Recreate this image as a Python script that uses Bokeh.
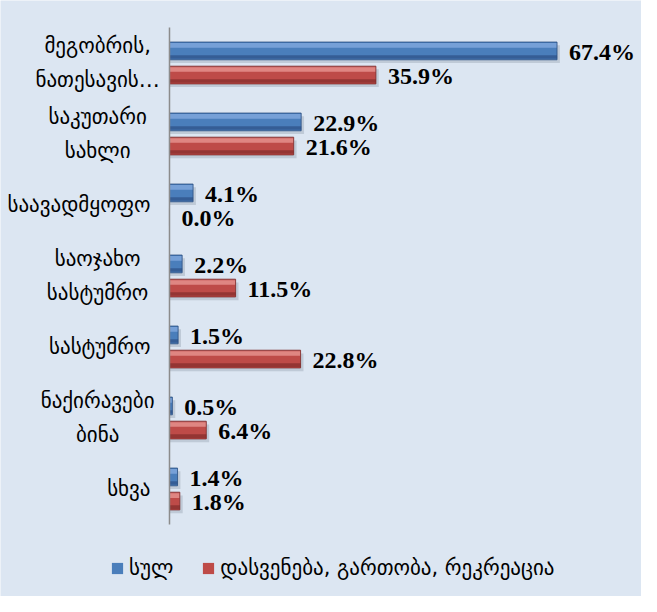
import numpy as np
from bokeh.plotting import figure
from bokeh.models import Range1d, Legend, LegendItem
from bokeh.core.properties import value
from bokeh.embed import file_html
from bokeh.resources import INLINE

# ---- data ----
categories = ["მეგობრის,\nნათესავის…", "საკუთარი\nსახლი", "საავადმყოფო",
              "საოჯახო\nსასტუმრო", "სასტუმრო", "ნაქირავები\nბინა", "სხვა"]
total = [67.4, 22.9, 4.1, 2.2, 1.5, 0.5, 1.4]
leisure = [35.9, 21.6, 0.0, 11.5, 22.8, 6.4, 1.8]
series_names = ["სულ", "დასვენება, გართობა, რეკრეაცია"]

# ---- styles ----
BG = "#dce6f2"
BLUE = dict(main="#4a7ebb", top="#7ea6dc", bottom="#335a91", line="#2c4f80")
RED = dict(main="#be4b48", top="#e5908d", bottom="#8f3331", line="#7a2a28")
LABEL_FONT = "DejaVu Sans"
VALUE_FONT = "Liberation Serif"

n = len(categories)
ypos = np.arange(n, dtype=float)
W, H = 641, 596
p = figure(width=W, height=H, output_backend="svg", toolbar_location=None,
           x_range=Range1d(-29.39, 82.09), y_range=Range1d(7.514, -0.880),
           x_axis_location=None, y_axis_location=None, min_border=0,
           background_fill_color=BG, border_fill_color=BG, outline_line_color=None)
p.grid.visible = False

bh = 0.25
mains = []
for vals, off, col in [(total, -0.17, BLUE), (leisure, 0.17, RED)]:
    v = np.array(vals)
    y = ypos + off
    # soft shadow
    p.hbar(y=y + 0.045, left=0, right=np.where(v > 0, v + 0.5, 0), height=bh,
           fill_color="#5a6878", fill_alpha=0.22, line_color=None)
    r = p.hbar(y=y, left=0, right=v, height=bh, fill_color=col["main"], line_color=None)
    mains.append(r)
    p.hbar(y=y - bh * 0.31, left=0, right=v, height=bh * 0.26,
           fill_color=col["top"], fill_alpha=0.85, line_color=None)
    p.hbar(y=y + bh * 0.34, left=0, right=v, height=bh * 0.2,
           fill_color=col["bottom"], fill_alpha=0.9, line_color=None)
    p.hbar(y=y, left=0, right=v, height=bh, fill_color=None,
           line_color=col["line"], line_width=0.8)
    p.text(x=v, y=y, text=[f"{a:.1f}%" for a in vals], x_offset=12, y_offset=1,
           text_align="left", text_baseline="middle", text_color="#000000",
           text_font=value(VALUE_FONT), text_font_style="bold", text_font_size="24px")

# category axis line
p.segment(x0=[0], y0=[-0.5], x1=[0], y1=[n - 0.5], line_color="#8c8c8c", line_width=1.5)

# category labels
multi = [i for i, c in enumerate(categories) if "\n" in c]
single = [i for i, c in enumerate(categories) if "\n" not in c]
p.text(x=[-12.5] * len(multi), y=ypos[multi], text=[categories[i] for i in multi],
       text_align="center", text_baseline="middle", text_color="#000000",
       text_font=value(LABEL_FONT), text_font_size="21px", text_line_height=1.38)
p.text(x=[-3.3] * len(single), y=ypos[single], text=[categories[i] for i in single],
       text_align="right", text_baseline="middle", text_color="#000000",
       text_font=value(LABEL_FONT), text_font_size="21px")

legend = Legend(items=[LegendItem(label=series_names[0], renderers=[mains[0]]),
                       LegendItem(label=series_names[1], renderers=[mains[1]])],
                orientation="horizontal", location=(110, 16),
                background_fill_alpha=0, border_line_color=None, padding=0, margin=0,
                spacing=28, label_standoff=5, glyph_width=14, glyph_height=14,
                label_text_font=LABEL_FONT, label_text_font_size="21px",
                label_text_color="#000000")
p.add_layout(legend)

open("out.html", "w").write(file_html(p, INLINE))
